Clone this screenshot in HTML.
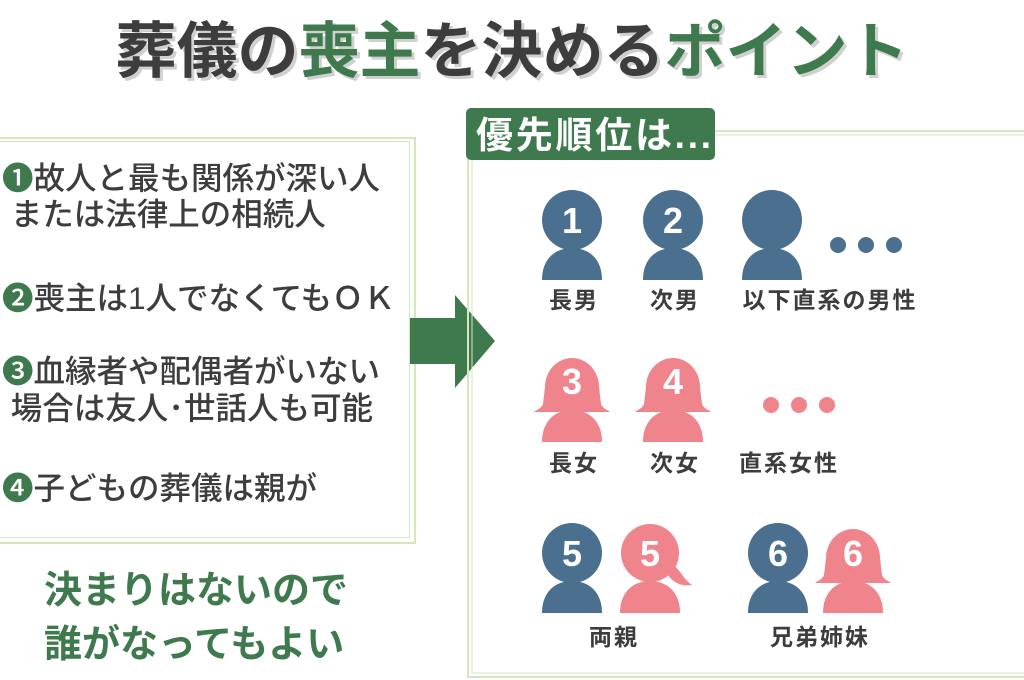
<!DOCTYPE html>
<html><head><meta charset="utf-8"><style>
body{margin:0;width:1024px;height:680px;background:#fff;overflow:hidden;position:relative;font-family:"Liberation Sans","Noto Sans CJK JP",sans-serif;}
.t{position:absolute;white-space:nowrap;font-weight:bold;}
</style></head><body>
<div class="t" style="left:0;width:1024px;text-align:center;top:1px;font-size:61px;color:#3d3d3d;letter-spacing:0px;text-shadow:3px 3px 0 #d0d0d0;">葬儀の<span style="color:#3f7a4f">喪主</span>を決める<span style="color:#3f7a4f">ポイント</span></div>

<div style="position:absolute;left:-10px;top:137px;width:422px;height:403px;border:2px solid #d8e6c0;"></div>
<div style="position:absolute;left:-6px;top:141px;width:414px;height:395px;border:1px solid #d8e6c0;"></div>

<div class="t" style="left:2px;top:160px;font-size:31.5px;color:#3d3d3d;line-height:36px;font-weight:500"><span style="color:#3f7a4f">❶</span>故人と最も関係が深い人<br>&nbsp;または法律上の相続人</div>
<div class="t" style="left:2px;top:280px;font-size:31.5px;color:#3d3d3d;line-height:36px;font-weight:500"><span style="color:#3f7a4f">❷</span>喪主は1人でなくてもＯＫ</div>
<div class="t" style="left:2px;top:353px;font-size:31.5px;color:#3d3d3d;line-height:37px;font-weight:500"><span style="color:#3f7a4f">❸</span>血縁者や配偶者がいない<br>&nbsp;場合は友人･世話人も可能</div>
<div class="t" style="left:2px;top:470px;font-size:31.5px;color:#3d3d3d;line-height:36px;font-weight:500"><span style="color:#3f7a4f">❹</span>子どもの葬儀は親が</div>

<div class="t" style="left:44px;top:564px;font-size:38px;color:#3f7a4f;line-height:54px;">決まりはないので<br>誰がなってもよい</div>

<svg width="1024" height="680" style="position:absolute;left:0;top:0" xmlns="http://www.w3.org/2000/svg">
<defs>
<g id="m"><circle cx="0" cy="0" r="30"/><path d="M-30,60 C-30,38 -16,28 0,28 C16,28 30,38 30,60 Z"/></g>
<g id="w"><path d="M-27,5 A27,29 0 0 1 27,5 L29,22 C31,27 36,28 38,30 L-38,30 C-36,28 -31,27 -29,22 Z"/><path d="M-30,60 C-30,38 -16,28 0,28 C16,28 30,38 30,60 Z"/></g>
<g id="w2"><circle cx="0" cy="0" r="29"/><path d="M20,10 C30,15 32,25 42,32 C30,34 22,28 18,22 Z"/><path d="M-30,60 C-30,38 -16,28 0,28 C16,28 30,38 30,60 Z"/></g>
</defs>
<rect x="410" y="318" width="46" height="46" fill="#3f7a4f"/>
<polygon points="455,295 495,341 455,388" fill="#3f7a4f"/>
<rect x="468" y="131" width="570" height="546" fill="none" stroke="#d8e6c0" stroke-width="2"/>
<rect x="472" y="135" width="560" height="538" fill="none" stroke="#d8e6c0" stroke-width="1"/>
<rect x="466" y="108" width="249" height="52" rx="5" fill="#3f7a4f"/>
<text x="476" y="148" font-size="37" font-weight="bold" fill="#fff" font-family="Liberation Sans, Noto Sans CJK JP, sans-serif" textLength="235">優先順位は...</text>

<g fill="#4a6f8f">
<use href="#m" x="572" y="220"/><use href="#m" x="673" y="220"/><use href="#m" x="772" y="220"/>
<circle cx="838" cy="245" r="8"/><circle cx="866" cy="245" r="8"/><circle cx="894" cy="245" r="8"/>
<use href="#m" x="572" y="553"/><use href="#m" x="778" y="553"/>
</g>
<g fill="#f0848c">
<use href="#w" x="572" y="382"/><use href="#w" x="673" y="382"/>
<circle cx="771" cy="405" r="8"/><circle cx="799" cy="405" r="8"/><circle cx="827" cy="405" r="8"/>
<use href="#w2" x="650" y="553"/><use href="#w" x="853" y="553"/>
</g>
<g fill="#fff" font-size="36" font-weight="bold" text-anchor="middle" font-family="Liberation Sans, sans-serif">
<text x="572" y="233">1</text><text x="673" y="233">2</text>
<text x="572" y="394">3</text><text x="673" y="394">4</text>
<text x="572" y="566">5</text><text x="650" y="566">5</text>
<text x="778" y="566">6</text><text x="853" y="566">6</text>
</g>
<g fill="#3d3d3d" font-size="23" font-weight="bold" text-anchor="middle" font-family="Liberation Sans, Noto Sans CJK JP, sans-serif" letter-spacing="2">
<text x="574" y="308">長男</text><text x="675" y="308">次男</text><text x="830" y="308">以下直系の男性</text>
<text x="574" y="471">長女</text><text x="675" y="471">次女</text><text x="789" y="471">直系女性</text>
<text x="614" y="645">両親</text><text x="820" y="645">兄弟姉妹</text>
</g>
</svg>
</body></html>
